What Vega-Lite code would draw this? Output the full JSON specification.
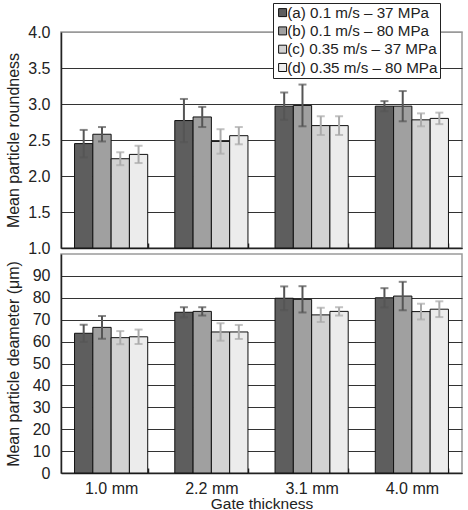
{
  "$schema": "https://vega.github.io/schema/vega-lite/v6.json",
  "autosize": {"type": "pad"},
  "padding": {"left": 4, "top": 1, "right": 0, "bottom": 0},
  "background": "white",
  "bounds": "flush",
  "spacing": 6,
  "config": {
    "font": "Liberation Sans",
    "view": {"stroke": "#9a9a9a", "strokeWidth": 1.5},
    "axis": {
      "labelFontSize": 16,
      "labelColor": "#222",
      "labelOverlap": false,
      "titleFontSize": 16,
      "titleFontWeight": "normal",
      "titleColor": "#222",
      "domainColor": "#222",
      "domainWidth": 1.5
    }
  },
  "datasets": {
    "gate": [
      {"g": "1.0 mm", "sid": "a", "series": "(a) 0.1 m/s – 37 MPa", "r": 2.45, "rsd": 0.19, "d": 63.8, "dsd": 3.9},
      {"g": "1.0 mm", "sid": "b", "series": "(b) 0.1 m/s – 80 MPa", "r": 2.58, "rsd": 0.10, "d": 66.5, "dsd": 5.2},
      {"g": "1.0 mm", "sid": "c", "series": "(c) 0.35 m/s – 37 MPa", "r": 2.24, "rsd": 0.09, "d": 61.8, "dsd": 3.0},
      {"g": "1.0 mm", "sid": "d", "series": "(d) 0.35 m/s – 80 MPa", "r": 2.30, "rsd": 0.12, "d": 62.2, "dsd": 3.3},
      {"g": "2.2 mm", "sid": "a", "series": "(a) 0.1 m/s – 37 MPa", "r": 2.77, "rsd": 0.30, "d": 73.4, "dsd": 2.3},
      {"g": "2.2 mm", "sid": "b", "series": "(b) 0.1 m/s – 80 MPa", "r": 2.82, "rsd": 0.14, "d": 73.8, "dsd": 1.9},
      {"g": "2.2 mm", "sid": "c", "series": "(c) 0.35 m/s – 37 MPa", "r": 2.48, "rsd": 0.17, "d": 64.4, "dsd": 4.0},
      {"g": "2.2 mm", "sid": "d", "series": "(d) 0.35 m/s – 80 MPa", "r": 2.56, "rsd": 0.12, "d": 64.4, "dsd": 3.2},
      {"g": "3.1 mm", "sid": "a", "series": "(a) 0.1 m/s – 37 MPa", "r": 2.97, "rsd": 0.19, "d": 79.8, "dsd": 5.4},
      {"g": "3.1 mm", "sid": "b", "series": "(b) 0.1 m/s – 80 MPa", "r": 2.98, "rsd": 0.29, "d": 79.3, "dsd": 6.0},
      {"g": "3.1 mm", "sid": "c", "series": "(c) 0.35 m/s – 37 MPa", "r": 2.70, "rsd": 0.13, "d": 72.2, "dsd": 3.3},
      {"g": "3.1 mm", "sid": "d", "series": "(d) 0.35 m/s – 80 MPa", "r": 2.70, "rsd": 0.13, "d": 73.8, "dsd": 1.9},
      {"g": "4.0 mm", "sid": "a", "series": "(a) 0.1 m/s – 37 MPa", "r": 2.97, "rsd": 0.07, "d": 80.0, "dsd": 4.4},
      {"g": "4.0 mm", "sid": "b", "series": "(b) 0.1 m/s – 80 MPa", "r": 2.97, "rsd": 0.21, "d": 80.8, "dsd": 6.5},
      {"g": "4.0 mm", "sid": "c", "series": "(c) 0.35 m/s – 37 MPa", "r": 2.78, "rsd": 0.09, "d": 73.7, "dsd": 3.6},
      {"g": "4.0 mm", "sid": "d", "series": "(d) 0.35 m/s – 80 MPa", "r": 2.80, "rsd": 0.08, "d": 74.8, "dsd": 3.6}
    ]
  },
  "resolve": {"scale": {"fill": "independent"}, "legend": {"fill": "independent"}},
  "vconcat": [
    {
      "width": 401,
      "height": 216,
      "data": {"name": "gate"},
      "transform": [
        {"calculate": "datum.r - datum.rsd", "as": "lo"},
        {"calculate": "datum.r + datum.rsd", "as": "hi"}
      ],
      "encoding": {
        "x": {
          "field": "g", "type": "nominal", "sort": null,
          "scale": {"paddingInner": 0.27, "paddingOuter": 0.135},
          "axis": {"labels": false, "title": null, "tickBand": "extent", "tickSize": -5, "tickColor": "#222", "tickWidth": 1.5, "grid": false}
        },
        "xOffset": {"field": "sid", "type": "nominal", "sort": null, "scale": {"paddingInner": 0, "paddingOuter": 0}}
      },
      "layer": [
        {
          "mark": {"type": "bar", "stroke": "#111", "strokeWidth": 1},
          "encoding": {
            "y": {
              "field": "r", "type": "quantitative",
              "scale": {"domain": [1, 4], "zero": false, "nice": false},
              "axis": {
                "title": "Mean particle roundness",
                "values": [1, 1.5, 2, 2.5, 3, 3.5, 4],
                "format": ".1f",
                "ticks": false,
                "labelPadding": 11,
                "titleX": -40,
                "grid": true,
                "gridColor": {"condition": {"test": "datum.value >= 4", "value": "#9a9a9a"}, "value": "#333"},
                "gridWidth": 1.2
              }
            },
            "y2": {"datum": 1},
            "fill": {
              "field": "series", "type": "nominal", "sort": null,
              "scale": {"range": ["#5e5e5e", "#a0a0a0", "#d2d2d2", "#ececec"]},
              "legend": {
                "orient": "none", "legendX": 212, "legendY": -29, "title": null,
                "symbolType": "square", "symbolSize": 64, "symbolStrokeColor": "#111", "symbolStrokeWidth": 1,
                "labelFontSize": 15.2, "labelColor": "#222", "labelLimit": 300, "labelOffset": -3,
                "rowPadding": 2.3, "padding": 2, "strokeColor": "#222", "fillColor": "white"
              }
            }
          }
        },
        {
          "mark": {"type": "rule", "strokeWidth": 2},
          "encoding": {
            "y": {
              "field": "lo", "type": "quantitative",
              "axis": {
                "title": "Mean particle roundness",
                "values": [1, 1.5, 2, 2.5, 3, 3.5, 4],
                "format": ".1f",
                "ticks": false,
                "labelPadding": 11,
                "titleX": -40,
                "grid": true,
                "gridColor": {"condition": {"test": "datum.value >= 4", "value": "#9a9a9a"}, "value": "#333"},
                "gridWidth": 1.2
              }
            },
            "y2": {"field": "hi"},
            "color": {"condition": {"test": "datum.sid == 'a' || datum.sid == 'b'", "value": "#555"}, "value": "#aaa"}
          }
        },
        {
          "mark": {"type": "tick", "orient": "horizontal", "size": 8, "thickness": 2},
          "encoding": {
            "y": {
              "field": "hi", "type": "quantitative",
              "axis": {
                "title": "Mean particle roundness",
                "values": [1, 1.5, 2, 2.5, 3, 3.5, 4],
                "format": ".1f",
                "ticks": false,
                "labelPadding": 11,
                "titleX": -40,
                "grid": true,
                "gridColor": {"condition": {"test": "datum.value >= 4", "value": "#9a9a9a"}, "value": "#333"},
                "gridWidth": 1.2
              }
            },
            "color": {"condition": {"test": "datum.sid == 'a' || datum.sid == 'b'", "value": "#555"}, "value": "#aaa"}
          }
        },
        {
          "mark": {"type": "tick", "orient": "horizontal", "size": 8, "thickness": 2},
          "encoding": {
            "y": {
              "field": "lo", "type": "quantitative",
              "axis": {
                "title": "Mean particle roundness",
                "values": [1, 1.5, 2, 2.5, 3, 3.5, 4],
                "format": ".1f",
                "ticks": false,
                "labelPadding": 11,
                "titleX": -40,
                "grid": true,
                "gridColor": {"condition": {"test": "datum.value >= 4", "value": "#9a9a9a"}, "value": "#333"},
                "gridWidth": 1.2
              }
            },
            "color": {"condition": {"test": "datum.sid == 'a' || datum.sid == 'b'", "value": "#555"}, "value": "#aaa"}
          }
        }
      ]
    },
    {
      "width": 401,
      "height": 219,
      "data": {"name": "gate"},
      "transform": [
        {"calculate": "datum.d - datum.dsd", "as": "lo"},
        {"calculate": "datum.d + datum.dsd", "as": "hi"}
      ],
      "encoding": {
        "x": {
          "field": "g", "type": "nominal", "sort": null,
          "scale": {"paddingInner": 0.27, "paddingOuter": 0.135},
          "axis": {"title": "Gate thickness", "labelAngle": 0, "labelPadding": 12, "titlePadding": 0, "titleFontSize": 15.5, "tickBand": "extent", "tickSize": -5, "tickColor": "#222", "tickWidth": 1.5, "grid": false}
        },
        "xOffset": {"field": "sid", "type": "nominal", "sort": null, "scale": {"paddingInner": 0, "paddingOuter": 0}}
      },
      "layer": [
        {
          "mark": {"type": "bar", "stroke": "#111", "strokeWidth": 1},
          "encoding": {
            "y": {
              "field": "d", "type": "quantitative",
              "scale": {"domain": [0, 100], "nice": false},
              "axis": {
                "title": "Mean particle deameter (μm)",
                "values": [0, 10, 20, 30, 40, 50, 60, 70, 80, 90],
                "ticks": false,
                "labelPadding": 11,
                "titleX": -40,
                "grid": true,
                "gridColor": "#333",
                "gridWidth": 1.2
              }
            },
            "fill": {
              "field": "series", "type": "nominal", "sort": null,
              "scale": {"range": ["#5e5e5e", "#a0a0a0", "#d2d2d2", "#ececec"]},
              "legend": null
            }
          }
        },
        {
          "mark": {"type": "rule", "strokeWidth": 2},
          "encoding": {
            "y": {
              "field": "lo", "type": "quantitative",
              "axis": {
                "title": "Mean particle deameter (μm)",
                "values": [0, 10, 20, 30, 40, 50, 60, 70, 80, 90],
                "ticks": false,
                "labelPadding": 11,
                "titleX": -40,
                "grid": true,
                "gridColor": "#333",
                "gridWidth": 1.2
              }
            },
            "y2": {"field": "hi"},
            "color": {"condition": {"test": "datum.sid == 'a' || datum.sid == 'b'", "value": "#555"}, "value": "#aaa"}
          }
        },
        {
          "mark": {"type": "tick", "orient": "horizontal", "size": 8, "thickness": 2},
          "encoding": {
            "y": {
              "field": "hi", "type": "quantitative",
              "axis": {
                "title": "Mean particle deameter (μm)",
                "values": [0, 10, 20, 30, 40, 50, 60, 70, 80, 90],
                "ticks": false,
                "labelPadding": 11,
                "titleX": -40,
                "grid": true,
                "gridColor": "#333",
                "gridWidth": 1.2
              }
            },
            "color": {"condition": {"test": "datum.sid == 'a' || datum.sid == 'b'", "value": "#555"}, "value": "#aaa"}
          }
        },
        {
          "mark": {"type": "tick", "orient": "horizontal", "size": 8, "thickness": 2},
          "encoding": {
            "y": {
              "field": "lo", "type": "quantitative",
              "axis": {
                "title": "Mean particle deameter (μm)",
                "values": [0, 10, 20, 30, 40, 50, 60, 70, 80, 90],
                "ticks": false,
                "labelPadding": 11,
                "titleX": -40,
                "grid": true,
                "gridColor": "#333",
                "gridWidth": 1.2
              }
            },
            "color": {"condition": {"test": "datum.sid == 'a' || datum.sid == 'b'", "value": "#555"}, "value": "#aaa"}
          }
        }
      ]
    }
  ]
}
